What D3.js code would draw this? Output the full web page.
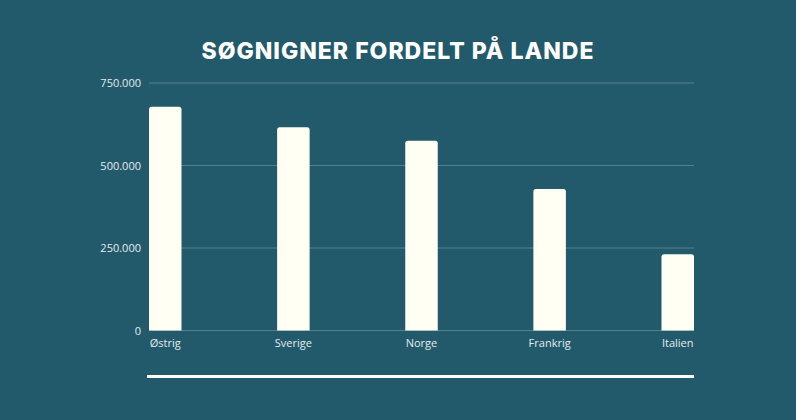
<!DOCTYPE html>
<html><head><meta charset="utf-8">
<script src="https://cdn.jsdelivr.net/npm/d3@7"></script>
<style>
html,body{margin:0;padding:0;background:#225a6b;}
svg{display:block;}
</style></head>
<body>
<script>
const categories = ["Østrig","Sverige","Norge","Frankrig","Italien"];
const values = [678000, 616000, 575000, 429000, 231000];
const tickValues = [0, 250000, 500000, 750000];
const tickLabels = ["0","250.000","500.000","750.000"];
const title = "SØGNIGNER FORDELT PÅ LANDE";

const W = 796, H = 420;
const plotLeft = 149, plotRight = 694, plotTop = 83, plotBottom = 330.5;
const barW = 32.5;

const svg = d3.select("body").append("svg").attr("width", W).attr("height", H);
svg.append("rect").attr("width", W).attr("height", H).attr("fill", "#225a6b");

svg.append("text").attr("x", 398).attr("y", 58.5).attr("text-anchor","middle")
  .attr("font-family","Inter, 'Open Sans', sans-serif").attr("font-weight", 800)
  .attr("font-size", 23).attr("letter-spacing", 1).attr("fill","#ffffff").text(title);

const y = d3.scaleLinear().domain([0, 750000]).range([plotBottom, plotTop]);
const x = d3.scalePoint().domain(categories).range([plotLeft + barW/2, plotRight - barW/2]);

// gridlines
svg.append("g").selectAll("line").data(tickValues).join("line")
  .attr("x1", plotLeft).attr("x2", plotRight)
  .attr("y1", d => y(d)).attr("y2", d => y(d))
  .attr("stroke", "#55818f").attr("stroke-width", 1);

// y tick labels
svg.append("g").selectAll("text").data(tickValues).join("text")
  .attr("x", 141).attr("y", d => y(d) + 4)
  .attr("text-anchor","end")
  .attr("font-family","'Open Sans', sans-serif").attr("font-size", 11)
  .attr("fill","#e4ebec")
  .text((d,i) => tickLabels[i]);

// bars with rounded top corners
const r = 2.5;
svg.append("g").selectAll("path").data(values).join("path")
  .attr("d", (d,i) => {
    const x0 = x(categories[i]) - barW/2, x1 = x0 + barW;
    const yt = y(d), yb = y(0);
    return `M${x0},${yb}L${x0},${yt+r}Q${x0},${yt} ${x0+r},${yt}L${x1-r},${yt}Q${x1},${yt} ${x1},${yt+r}L${x1},${yb}Z`;
  })
  .attr("fill", "#fffff4");

// x labels
svg.append("g").selectAll("text").data(categories).join("text")
  .attr("x", d => x(d)).attr("y", 347)
  .attr("text-anchor","middle")
  .attr("font-family","'Open Sans', sans-serif").attr("font-size", 11)
  .attr("fill","#e4ebec")
  .text(d => d);

// bottom rule
svg.append("line").attr("x1", 147).attr("x2", 694).attr("y1", 376.5).attr("y2", 376.5)
  .attr("stroke", "#ffffff").attr("stroke-width", 3);
</script>
</body></html>
